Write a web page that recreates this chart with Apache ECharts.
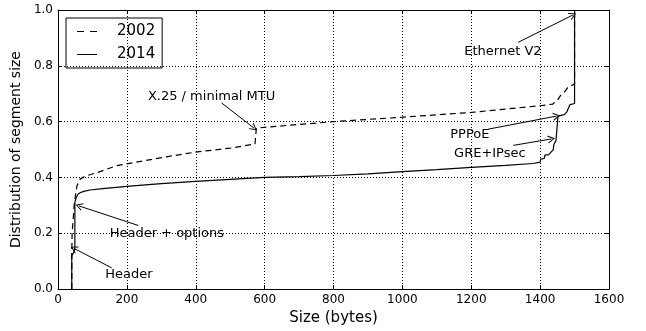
<!DOCTYPE html>
<html>
<head>
<meta charset="utf-8">
<script src="https://cdn.jsdelivr.net/npm/echarts@6/dist/echarts.min.js"></script>
<style>
  html, body { margin: 0; padding: 0; background: #fff; }
  #chart { width: 646px; height: 331px; }
</style>
</head>
<body>
<div id="chart"></div>
<script>
// CDF of segment sizes
var size2002 = [40, 40, 41, 44, 47, 50, 55, 65, 80, 120, 170, 250, 315, 400, 500, 572, 576, 700, 800, 1000, 1200, 1400, 1437, 1452, 1460, 1470, 1480, 1492, 1500, 1500];
var cdf2002 = [0, 0.13, 0.2, 0.25, 0.30, 0.33, 0.37, 0.395, 0.405, 0.42, 0.442, 0.46, 0.474, 0.491, 0.505, 0.52, 0.577, 0.59, 0.60, 0.616, 0.633, 0.657, 0.663, 0.68, 0.695, 0.705, 0.722, 0.73, 0.735, 1.0];

var size2014 = [40, 40, 45, 49, 49, 52, 58, 64, 75, 93, 130, 200, 300, 400, 500, 600, 700, 800, 900, 1000, 1100, 1200, 1300, 1380, 1400, 1402, 1412, 1414, 1425, 1427, 1431, 1433, 1438, 1440, 1444, 1446, 1451, 1452, 1456, 1470, 1472, 1478, 1480, 1485, 1487, 1500, 1500];
var cdf2014 = [0, 0.12, 0.13, 0.145, 0.31, 0.325, 0.34, 0.345, 0.35, 0.355, 0.36, 0.368, 0.378, 0.386, 0.393, 0.40, 0.403, 0.407, 0.413, 0.421, 0.428, 0.436, 0.443, 0.450, 0.455, 0.466, 0.468, 0.48, 0.482, 0.487, 0.49, 0.497, 0.499, 0.518, 0.52, 0.532, 0.533, 0.62, 0.623, 0.625, 0.632, 0.635, 0.643, 0.648, 0.661, 0.665, 1.0];

// annotations: label position, arrow start, arrow tip (data coords)
var noteText = ['Ethernet V2', 'X.25 / minimal MTU', 'PPPoE', 'GRE+IPsec', 'Header + options', 'Header'];
var noteX = [1292, 446, 1196, 1254, 316, 206];
var noteY = [0.850, 0.690, 0.555, 0.485, 0.199, 0.053];
var fromX = [1336, 475, 1249, 1322, 233, 156];
var fromY = [0.884, 0.667, 0.573, 0.515, 0.228, 0.076];
var toX = [1495, 569, 1448, 1433, 61, 46];
var toY = [0.982, 0.577, 0.62, 0.538, 0.298, 0.146];

var font = 'DejaVu Sans';
var chart = echarts.init(document.getElementById('chart'));

function pairs(xs, ys) {
    var out = [];
    for (var i = 0; i < xs.length; i++) {
        out.push([xs[i], ys[i]]);
    }
    return out;
}

var arrowLines = [];
var labelPts = [];
for (var i = 0; i < noteText.length; i++) {
    arrowLines.push([{coord: [fromX[i], fromY[i]]}, {coord: [toX[i], toY[i]]}]);
    labelPts.push({value: [noteX[i], noteY[i]], name: noteText[i]});
}

var tickInside = {show: true, inside: true, length: 4, lineStyle: {color: '#000'}};
var axisLine = {show: true, onZero: false, lineStyle: {color: '#000', width: 1}};
var grid = {show: true, lineStyle: {color: '#000', type: [1, 2], width: 1}};

var option = {
    animation: false,
    backgroundColor: '#fff',
    textStyle: {fontFamily: font},
    grid: {left: 58, right: 37, top: 10, bottom: 36},
    legend: {
        left: 66, top: 18,
        orient: 'vertical',
        borderColor: '#000', borderWidth: 1,
        padding: [6, 7, 6, 11],
        itemWidth: 20, itemHeight: 1.3, itemGap: 8,
        textStyle: {fontFamily: font, fontSize: 15, color: '#000', lineHeight: 14, padding: [0, 0, 0, 15]},
        data: [
            {name: '2002', icon: 'path://M0,0h7v1h-7z M13,0h7v1h-7z'},
            {name: '2014', icon: 'path://M0,0h20v1h-20z'}
        ],
        itemStyle: {color: '#000', borderWidth: 0}
    },
    xAxis: [{
        type: 'value', min: 0, max: 1600, interval: 200,
        name: 'Size (bytes)', nameLocation: 'middle', nameGap: 20,
        nameTextStyle: {fontFamily: font, fontSize: 15, color: '#000'},
        axisLine: axisLine, axisTick: tickInside,
        axisLabel: {fontFamily: font, fontSize: 12, color: '#000', margin: 5,
            formatter: function (v) { return String(v); }},
        splitLine: grid
    }, {
        type: 'value', min: 0, max: 1600, interval: 200, position: 'top',
        axisLine: axisLine, axisTick: tickInside,
        axisLabel: {show: false}, splitLine: {show: false}
    }],
    yAxis: [{
        type: 'value', min: 0, max: 1, interval: 0.2,
        name: 'Distribution of segment size', nameLocation: 'middle', nameGap: 31,
        nameTextStyle: {fontFamily: font, fontSize: 14, color: '#000'},
        axisLine: axisLine, axisTick: tickInside,
        axisLabel: {fontFamily: font, fontSize: 12, color: '#000', margin: 5,
            formatter: function (v) { return v.toFixed(1); }},
        splitLine: grid
    }, {
        type: 'value', min: 0, max: 1, interval: 0.2, position: 'right',
        axisLine: axisLine, axisTick: tickInside,
        axisLabel: {show: false}, splitLine: {show: false}
    }],
    series: [
        {
            name: '2002', type: 'line', showSymbol: false, symbol: 'none',
            data: pairs(size2002, cdf2002),
            lineStyle: {color: '#000', width: 1.2, type: [6, 4]},
            itemStyle: {color: '#000'}
        },
        {
            name: '2014', type: 'line', showSymbol: false, symbol: 'none',
            data: pairs(size2014, cdf2014),
            lineStyle: {color: '#000', width: 1.2},
            itemStyle: {color: '#000'},
            markLine: {
                silent: true,
                symbol: ['none', 'path://M5,0 L10,10 L8.6,10 L5,2.6 L1.4,10 L0,10 Z'],
                symbolSize: [8, 7],
                lineStyle: {color: '#000', width: 1, type: 'solid'},
                label: {show: false},
                data: arrowLines
            }
        },
        {
            name: 'notes', type: 'scatter', symbolSize: 0, silent: true,
            data: labelPts,
            itemStyle: {opacity: 1, color: '#000'},
            label: {
                show: true, position: 'inside', fontFamily: font, fontSize: 13, color: '#000',
                formatter: function (p) { return p.name; }
            }
        }
    ]
};
chart.setOption(option);
</script>
</body>
</html>
